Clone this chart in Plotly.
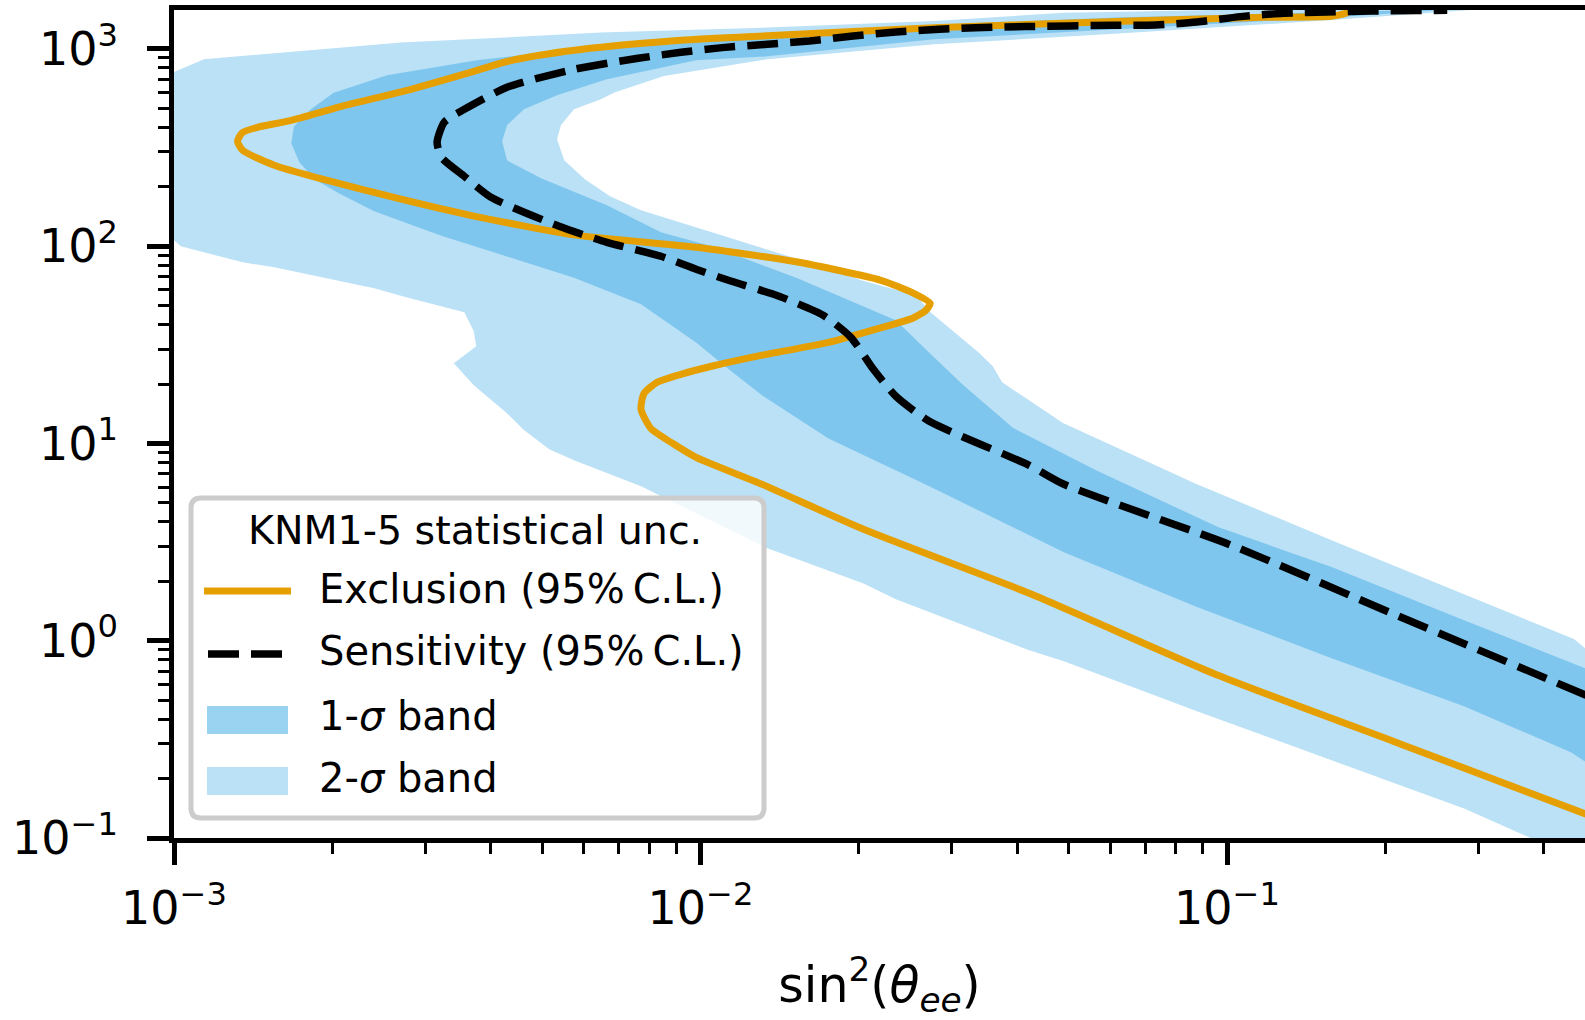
import plotly.graph_objects as go

# ---------------- data ----------------
# Exclusion contour (95% C.L.)
excl_x = [0.481, 0.214, 0.0961, 0.0421, 0.0204, 0.0131, 0.00981, 0.00891, 0.00805, 0.00771,
          0.00781, 0.00827, 0.00918, 0.0105, 0.0131, 0.0175, 0.0218, 0.0253, 0.0268, 0.0273,
          0.0253, 0.0220, 0.0152, 0.00981, 0.00575, 0.00371, 0.0024, 0.00155, 0.00135, 0.00132,
          0.00135, 0.00144, 0.00167, 0.00208, 0.00277, 0.00371, 0.00431, 0.00555, 0.00647, 0.00918,
          0.0134, 0.0278, 0.0634, 0.0793, 0.118, 0.158, 0.168, 0.180]
excl_y = [0.132, 0.299, 0.668, 1.74, 3.67, 6.2, 8.5, 9.9, 11.9, 14.9,
          17.9, 20.4, 22.4, 24.6, 28.0, 32.5, 38.3, 43.1, 47.3, 51.3,
          58.0, 67.1, 83.3, 98.6, 114, 142, 187, 257, 306, 340,
          377, 400, 434, 511, 616, 769, 865, 971, 1018, 1104,
          1164, 1278, 1378, 1403, 1444, 1461, 1513, 1681]

# Sensitivity contour (95% C.L.)
sens_x = [0.481, 0.210, 0.102, 0.0490, 0.0421, 0.0272, 0.0235, 0.0213, 0.0193, 0.0171,
          0.0141, 0.0113, 0.00981, 0.00841, 0.00664, 0.00539, 0.00400, 0.00356, 0.00322, 0.00316,
          0.00326, 0.00356, 0.00429, 0.00575, 0.00761, 0.00918, 0.0110, 0.0134, 0.0161, 0.0195,
          0.0235, 0.0284, 0.0344, 0.0415, 0.0605, 0.0733, 0.0877, 0.106, 0.128, 0.155,
          0.188, 0.262]
sens_y = [0.529, 1.345, 3.045, 6.205, 7.745, 12.94, 17.33, 23.75, 34.49, 44.6,
          55.7, 67.1, 76.3, 88.8, 104.5, 126, 176.8, 225.8, 281.9, 335.9,
          424.2, 493.5, 638, 787, 895, 960, 1014, 1054, 1095, 1161,
          1217, 1256, 1281, 1296, 1315, 1320, 1367, 1456, 1513, 1537,
          1555, 1567]

# 1-sigma band outline
band1_x = [0.481, 0.450, 0.282, 0.158, 0.0877, 0.0490, 0.0272, 0.0175, 0.0131, 0.0113,
           0.00981, 0.00771, 0.00575, 0.00429, 0.00322, 0.0024, 0.00206, 0.00185, 0.00173, 0.00167,
           0.00169, 0.00182, 0.00201, 0.00254, 0.00376, 0.00575, 0.00981, 0.0134, 0.0278, 0.0634,
           0.158, 0.266, 0.158, 0.0490, 0.0278, 0.0134, 0.00981, 0.00664, 0.00534, 0.00462,
           0.00429, 0.00420, 0.00429, 0.00498, 0.00664, 0.00841, 0.0105, 0.0152, 0.0235, 0.0272,
           0.0315, 0.0392, 0.0564, 0.0961, 0.158, 0.282, 0.481]
band1_y = [0.242, 0.272, 0.465, 0.815, 1.48, 2.81, 6.06, 10.6, 17.5, 23.8,
           32.5, 50.7, 69.1, 88.8, 113, 150, 185, 218, 266, 332,
           405, 494, 598, 734, 874, 994, 1117, 1198, 1315, 1444,
           1531, 1585, 1439, 1208, 1117, 916, 874, 701, 581, 494,
           410, 340, 272, 221, 161, 117.5, 99.8, 69.1, 42.1, 28.8,
           19.8, 12.0, 7.31, 3.77, 2.36, 1.27, 0.721]

# 2-sigma band outline
band2_x = [0.481, 0.371, 0.282, 0.158, 0.0877, 0.0490, 0.0421, 0.0235, 0.0204, 0.0134,
           0.0100, 0.00771, 0.00575, 0.00516, 0.00462, 0.00429, 0.00371, 0.00340, 0.00375, 0.00371,
           0.00356, 0.00276, 0.0024, 0.00155, 0.00135, 0.00103, 0.000978, 0.000978, 0.00114, 0.0027,
           0.00647, 0.0134, 0.0278, 0.0490, 0.0634, 0.138, 0.3215, 0.158, 0.0634, 0.0278,
           0.0134, 0.00852, 0.00688, 0.00647, 0.00575, 0.00543, 0.00534, 0.00551, 0.00603, 0.00673,
           0.00771, 0.0105, 0.0147, 0.0205, 0.0257, 0.0272, 0.0338, 0.0359, 0.0374, 0.0488,
           0.0877, 0.158, 0.282, 0.456, 0.481]
band2_y = [0.0762, 0.102, 0.141, 0.248, 0.439, 0.786, 0.894, 1.62, 1.95, 2.94,
           4.32, 6.06, 8.21, 9.34, 11.7, 14.2, 19.7, 25.5, 31.1, 37.0,
           46.2, 55.0, 61.1, 78.1, 82.8, 99.8, 113, 743, 885, 1075,
           1208, 1281, 1383, 1522, 1540, 1604, 1604, 1400, 1198, 1054,
           885, 728, 602, 555, 494, 410, 348, 272, 218, 179,
           152, 117.5, 88.8, 66.3, 56.3, 46.7, 28.8, 24.6, 20.4, 12.7,
           6.21, 3.23, 1.72, 1.02, 0.905]

x_tickvals = [1e-3, 1e-2, 1e-1]
x_ticktext = ["10<sup>\u22123</sup>", "10<sup>\u22122</sup>", "10<sup>\u22121</sup>"]
y_tickvals = [1e-1, 1e0, 1e1, 1e2, 1e3]
y_ticktext = ["10<sup>\u22121</sup>", "10<sup>0</sup>", "10<sup>1</sup>",
              "10<sup>2</sup>", "10<sup>3</sup>"]

legend_title = "KNM1-5 statistical unc."
legend_labels = ["Exclusion (95%\u2009C.L.)", "Sensitivity (95%\u2009C.L.)",
                 "1-<i>\u03c3</i> band", "2-<i>\u03c3</i> band"]
x_title = "sin<sup>2</sup>(<i>\u03b8</i><sub><i>ee</i></sub>)"

# ---------------- styles ----------------
ORANGE = "#E69F00"
BLUE1 = "rgba(86,180,233,0.6)"
BLUE2 = "rgba(86,180,233,0.4)"
FONT = "DejaVu Sans"

W, H = 1585, 1020
L, R, T, B = 174, 0, 10, 182
PW, PH = W - L - R, H - T - B
DEC_X, DEC_Y = 526.5, 197.3
x_range = [-3, -3 + PW / DEC_X]
y_range = [-1, -1 + PH / DEC_Y]


def xp(px):
    return (px - L) / PW


def yp(py):
    return (H - B - py) / PH


fig = go.Figure()
fig.add_trace(go.Scatter(x=band2_x, y=band2_y, mode="lines", fill="toself",
                         fillcolor=BLUE2, line=dict(width=0), hoverinfo="skip",
                         showlegend=False))
fig.add_trace(go.Scatter(x=band1_x, y=band1_y, mode="lines", fill="toself",
                         fillcolor=BLUE1, line=dict(width=0), hoverinfo="skip",
                         showlegend=False))
fig.add_trace(go.Scatter(x=excl_x, y=excl_y, mode="lines",
                         line=dict(color=ORANGE, width=7, shape="spline", smoothing=0.6),
                         showlegend=False))
fig.add_trace(go.Scatter(x=sens_x, y=sens_y, mode="lines",
                         line=dict(color="black", width=7.5, dash="31px,12px",
                                   shape="spline", smoothing=0.6),
                         showlegend=False))

minor_x = [m * 10.0 ** e for e in range(-3, 0) for m in range(2, 10)
           if m * 10.0 ** e < 10 ** x_range[1]]
minor_y = [m * 10.0 ** e for e in range(-1, 4) for m in range(2, 10)
           if m * 10.0 ** e < 10 ** y_range[1]]

axis_common = dict(type="log", showline=True, linecolor="black", linewidth=4.5,
                   ticks="outside", ticklen=22, tickwidth=4.5, tickcolor="black",
                   showgrid=False, zeroline=False, tickmode="array",
                   tickfont=dict(family=FONT, size=46, color="black"))

fig.update_xaxes(range=x_range, tickvals=x_tickvals, ticktext=x_ticktext,
                 mirror=True, ticklabelstandoff=4,
                 minor=dict(tickmode="array", tickvals=minor_x, ticks="outside",
                            ticklen=11, tickwidth=3, tickcolor="black", showgrid=False),
                 title=dict(text=x_title, font=dict(family=FONT, size=49, color="black"),
                            standoff=48),
                 automargin=False, **axis_common)
fig.update_yaxes(range=y_range, tickvals=y_tickvals, ticktext=y_ticktext,
                 ticklabelstandoff=20,
                 minor=dict(tickmode="array", tickvals=minor_y, ticks="outside",
                            ticklen=11, tickwidth=3, tickcolor="black", showgrid=False),
                 automargin=False, **axis_common)


def rrect_path(x0, y0, x1, y1, r):
    X0, X1 = xp(x0), xp(x1)
    Y0, Y1 = yp(y0), yp(y1)
    rx, ry = r / PW, r / PH
    return (f"M {X0 + rx},{Y0} L {X1 - rx},{Y0} Q {X1},{Y0} {X1},{Y0 - ry} "
            f"L {X1},{Y1 + ry} Q {X1},{Y1} {X1 - rx},{Y1} "
            f"L {X0 + rx},{Y1} Q {X0},{Y1} {X0},{Y1 + ry} "
            f"L {X0},{Y0 - ry} Q {X0},{Y0} {X0 + rx},{Y0} Z")


shapes = [
    dict(type="path", xref="paper", yref="paper",
         path=rrect_path(191, 498, 764, 818, 10),
         line=dict(color="#cccccc", width=5), fillcolor="rgba(255,255,255,0.8)"),
    dict(type="line", xref="paper", yref="paper", x0=xp(204), x1=xp(291),
         y0=yp(591), y1=yp(591), line=dict(color=ORANGE, width=7)),
    dict(type="line", xref="paper", yref="paper", x0=xp(208), x1=xp(282),
         y0=yp(654), y1=yp(654), line=dict(color="black", width=7.5, dash="31px,12px")),
    dict(type="rect", xref="paper", yref="paper", x0=xp(207), x1=xp(288),
         y0=yp(706), y1=yp(734), line=dict(width=0), fillcolor=BLUE1),
    dict(type="rect", xref="paper", yref="paper", x0=xp(207), x1=xp(288),
         y0=yp(767), y1=yp(795), line=dict(width=0), fillcolor=BLUE2),
]

lf = dict(family=FONT, size=40, color="black")
annotations = [
    dict(text=legend_title, x=xp(475), y=yp(530), xref="paper", yref="paper",
         xanchor="center", yanchor="middle", showarrow=False,
         font=dict(family=FONT, size=39.5, color="black")),
]
for lab, py in zip(legend_labels, [589, 651, 716, 778]):
    annotations.append(dict(text=lab, x=xp(317), y=yp(py), xref="paper", yref="paper",
                            xanchor="left", yanchor="middle", showarrow=False, font=lf))

fig.update_layout(width=W, height=H, margin=dict(l=L, r=R, t=T, b=B),
                  paper_bgcolor="white", plot_bgcolor="white",
                  shapes=shapes, annotations=annotations, showlegend=False)

fig.write_html("out.html")
